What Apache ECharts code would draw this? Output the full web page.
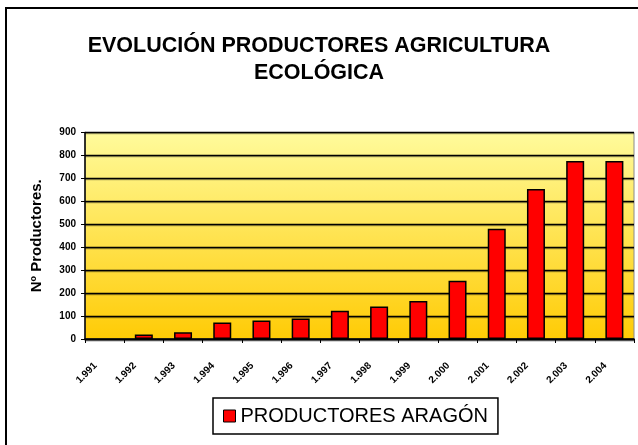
<!DOCTYPE html>
<html>
<head>
<meta charset="utf-8">
<script src="https://cdn.jsdelivr.net/npm/echarts@6/dist/echarts.min.js"></script>
<style>
  html, body { margin: 0; padding: 0; background: #fff; }
  #chart { width: 638px; height: 445px; }
</style>
</head>
<body>
<div id="chart"></div>
<script>
// Años y número de productores de agricultura ecológica en Aragón
const years = ['1.991', '1.992', '1.993', '1.994', '1.995', '1.996', '1.997',
               '1.998', '1.999', '2.000', '2.001', '2.002', '2.003', '2.004'];
const productores = [null, 20, 29, 72, 81, 89, 123, 142, 166, 254, 480, 654, 776, 776];
const yTicks = { min: 0, max: 900, interval: 100 };

const FONT = '"Liberation Sans", Arial, sans-serif';

const chart = echarts.init(document.getElementById('chart'), null, { renderer: 'canvas' });

chart.setOption({
  animation: false,
  backgroundColor: '#ffffff',
  textStyle: { fontFamily: FONT, color: '#000' },
  graphic: [{
    type: 'rect',
    shape: { x: 6, y: 8, width: 700, height: 500 },
    style: { fill: 'none', stroke: '#000', lineWidth: 2 },
    silent: true,
    z: 0
  }],
  title: {
    text: 'EVOLUCIÓN PRODUCTORES AGRICULTURA\nECOLÓGICA',
    left: 'center',
    top: 28,
    textStyle: {
      fontFamily: FONT,
      fontSize: 21.5,
      fontWeight: 'bold',
      color: '#000',
      lineHeight: 27
    }
  },
  legend: {
    left: 213,
    top: 398,
    padding: [8, 10, 8, 10],
    itemWidth: 12,
    itemHeight: 12,
    icon: 'rect',
    backgroundColor: '#fff',
    borderColor: '#000',
    borderWidth: 1.5,
    borderRadius: 0,
    itemStyle: { borderColor: '#000', borderWidth: 1 },
    textStyle: { fontFamily: FONT, fontSize: 20, color: '#000' },
    data: ['PRODUCTORES ARAGÓN']
  },
  grid: {
    left: 85,
    right: 4,
    top: 132.5,
    bottom: 106,
    show: true,
    borderColor: '#8a8a8a',
    borderWidth: 1,
    backgroundColor: new echarts.graphic.LinearGradient(0, 0, 0, 1, [
      { offset: 0, color: '#FFFB9C' },
      { offset: 1, color: '#FFCB05' }
    ])
  },
  xAxis: {
    type: 'category',
    data: years,
    boundaryGap: true,
    axisLine: { show: true, lineStyle: { color: '#000', width: 1.5, shadowColor: 'rgba(0,0,0,0.35)', shadowOffsetY: 1.5 } },
    axisTick: { show: true, inside: false, length: 4, alignWithLabel: false, lineStyle: { color: '#000', width: 1 } },
    axisLabel: {
      rotate: 45,
      interval: 0,
      margin: 16,
      padding: [0, 13, 0, 0],
      fontFamily: FONT,
      fontSize: 10,
      fontWeight: 'bold',
      color: '#000'
    },
    splitLine: { show: false }
  },
  yAxis: {
    type: 'value',
    min: yTicks.min,
    max: yTicks.max,
    interval: yTicks.interval,
    name: 'Nº Productores.',
    nameLocation: 'middle',
    nameGap: 41,
    nameTextStyle: { fontFamily: FONT, fontSize: 15, fontWeight: 'bold', color: '#000' },
    axisLine: { show: true, lineStyle: { color: '#000', width: 1.5 } },
    axisTick: { show: true, inside: false, length: 4, lineStyle: { color: '#000', width: 1 } },
    axisLabel: { margin: 9, fontFamily: FONT, fontSize: 10, fontWeight: 'bold', color: '#000' },
    splitLine: { show: true, lineStyle: { color: '#000', width: 1.4, shadowColor: 'rgba(0,0,0,0.35)', shadowOffsetY: 1 } }
  },
  series: [{
    name: 'PRODUCTORES ARAGÓN',
    type: 'bar',
    data: productores,
    barWidth: 18,
    itemStyle: { color: '#FF0000', borderColor: '#000', borderWidth: 1.5 }
  }]
});
</script>
</body>
</html>
